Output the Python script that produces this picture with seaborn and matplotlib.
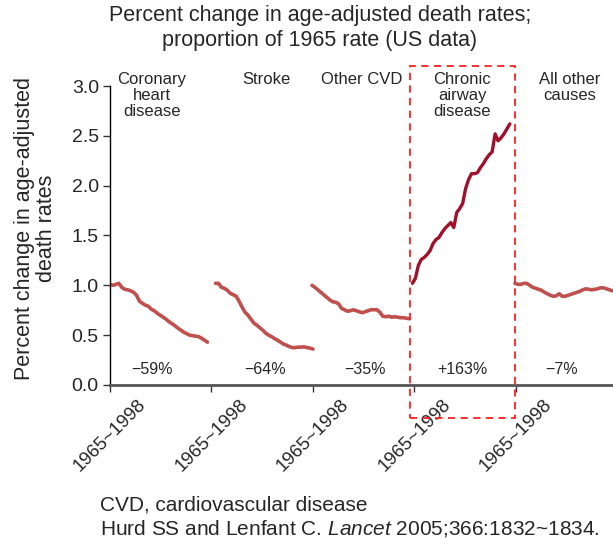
import numpy as np
import pandas as pd
import matplotlib
matplotlib.use("Agg")
import matplotlib.pyplot as plt
import seaborn as sns
from matplotlib.patches import Rectangle

# data (proportion of 1965 rate)
years = list(range(1965, 1999))
categories = ['Coronary\nheart\ndisease', 'Stroke', 'Other CVD',
              'Chronic\nairway\ndisease', 'All other\ncauses']
changes = ['\u221259%', '\u221264%', '\u221235%', '+163%', '\u22127%']
tick_labels = ['1965~1998'] * 5

coronary = [1.01, 1.00, 1.01, 1.02, 0.98, 0.96, 0.955, 0.945, 0.93, 0.90,
            0.84, 0.82, 0.80, 0.79, 0.76, 0.745, 0.72, 0.70, 0.68, 0.66,
            0.635, 0.615, 0.595, 0.57, 0.55, 0.53, 0.515, 0.50, 0.495, 0.49,
            0.485, 0.47, 0.45, 0.43]
stroke = [1.02, 1.02, 0.98, 0.97, 0.95, 0.92, 0.905, 0.89, 0.84, 0.78,
          0.73, 0.70, 0.66, 0.62, 0.60, 0.575, 0.55, 0.52, 0.50, 0.485,
          0.465, 0.45, 0.43, 0.41, 0.40, 0.385, 0.375, 0.375, 0.38, 0.38,
          0.383, 0.375, 0.37, 0.36]
other_cvd = [1.00, 0.98, 0.955, 0.93, 0.905, 0.88, 0.855, 0.835, 0.83, 0.815,
             0.77, 0.755, 0.74, 0.745, 0.755, 0.745, 0.735, 0.725, 0.735, 0.745,
             0.755, 0.755, 0.755, 0.73, 0.69, 0.685, 0.69, 0.68, 0.685, 0.68,
             0.675, 0.675, 0.67, 0.665]
chronic = [1.02, 1.07, 1.20, 1.26, 1.28, 1.31, 1.35, 1.42, 1.46, 1.48,
           1.53, 1.57, 1.60, 1.63, 1.58, 1.73, 1.77, 1.82, 1.97, 2.06,
           2.12, 2.12, 2.13, 2.18, 2.22, 2.27, 2.31, 2.34, 2.52, 2.45,
           2.48, 2.52, 2.57, 2.62]
all_other = [1.02, 1.01, 1.01, 1.02, 1.02, 1.00, 0.98, 0.97, 0.96, 0.95,
             0.93, 0.915, 0.90, 0.89, 0.895, 0.915, 0.89, 0.89, 0.90, 0.91,
             0.92, 0.93, 0.94, 0.955, 0.965, 0.96, 0.955, 0.96, 0.965, 0.975,
             0.975, 0.965, 0.955, 0.945]
series = [coronary, stroke, other_cvd, chronic, all_other]

# layout
starts = [0.0, 1.04, 1.99, 2.98, 3.99]
span = 0.96
name_x = [0.41, 1.54, 2.48, 3.47, 4.53]
change_x = [0.41, 1.53, 2.51, 3.47, 4.45]
colors = ['#c0504d', '#c0504d', '#c0504d', '#a0102a', '#c0504d']
widths = [2.6, 2.6, 2.6, 2.4, 2.6]

sns.set_style('ticks')
plt.rcParams['font.family'] = ['Liberation Sans', 'DejaVu Sans']
plt.rcParams['mathtext.fontset'] = 'custom'
plt.rcParams['mathtext.rm'] = 'Liberation Sans'
plt.rcParams['mathtext.it'] = 'Liberation Sans:italic'

fig = plt.figure(figsize=(6.13, 5.45), dpi=100)
ax = fig.add_axes([0.1794, 0.2936, 0.8206, 0.5486])

for i, vals in enumerate(series):
    d = pd.DataFrame({'year': years, 'value': vals})
    d['x'] = starts[i] + (d['year'] - 1965) / 33 * span
    sns.lineplot(data=d, x='x', y='value', ax=ax, color=colors[i],
                 lw=widths[i], legend=False)
    ax.text(change_x[i], 0.16, changes[i], ha='center', va='center', fontsize=11.5)
    ax.text(name_x[i], 3.145, categories[i], ha='center', va='top',
            fontsize=12, linespacing=1.1)

ax.set_xlim(0, 4.956)
ax.set_ylim(0, 3.0)
ax.set_xticks(range(5))
ax.set_xticklabels(tick_labels, rotation=45, fontsize=13.5)
ax.set_yticks(np.arange(0, 3.01, 0.5))
ax.set_yticklabels(['%.1f' % v for v in np.arange(0, 3.01, 0.5)], fontsize=14)
ax.set_xlabel('')
ax.set_ylabel('Percent change in age-adjusted\ndeath rates', fontsize=15.5,
              linespacing=1.05)
ax.yaxis.set_label_coords(-0.105, 0.525)
ax.tick_params(axis='both', length=5, width=1, color='#333333', pad=3)
sns.despine(ax=ax)
ax.spines['left'].set_color('black')
ax.spines['left'].set_linewidth(1)
ax.spines['bottom'].set_color('#555555')
ax.spines['bottom'].set_linewidth(2)

# highlight box around chronic airway disease
fig.add_artist(Rectangle((410 / 613, 1 - 418 / 545), 105 / 613, 352 / 545,
                         transform=fig.transFigure, fill=False,
                         edgecolor='#ff2020', lw=1.3, ls=(0, (4, 3))))

fig.text(0.522, 0.99, 'Percent change in age-adjusted death rates;\n'
         'proportion of 1965 rate (US data)', ha='center', va='top',
         fontsize=15.5, linespacing=1.2)
fig.text(0.163, 0.073, 'CVD, cardiovascular disease', fontsize=15, va='center')
fig.text(0.163, 0.031, r'Hurd SS and Lenfant C. $\it{Lancet}$ 2005;366:1832~1834.',
         fontsize=15, va='center')

fig.savefig('out.png', dpi=100)
